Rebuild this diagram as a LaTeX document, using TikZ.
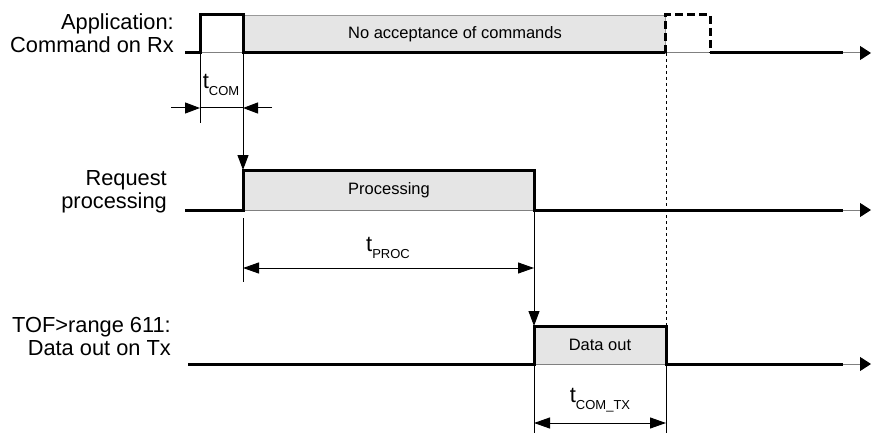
\documentclass[tikz,border=0pt]{standalone}
\usepackage{fontspec}
\setmainfont{Liberation Sans}
\usetikzlibrary{arrows.meta}
\begin{document}
\begin{tikzpicture}[x=1pt,y=-1pt,
  sig/.style={line width=3pt, line join=miter, line cap=butt},
  axisline/.style={line width=1pt, draw=black!50, -{Triangle[length=11pt,width=14pt,fill=black,color=black]}},
  thinline/.style={line width=1pt},
  tipend/.style={-{Triangle[length=15pt,width=11pt]}},
  dimline/.style={line width=1pt,{Triangle[length=16pt,width=11pt]}-{Triangle[length=16pt,width=11pt]}},
  busy/.style={fill=black!10, draw=black!40, line width=0.8pt},
  lab/.style={font=\fontsize{21.8}{24}\selectfont, inner sep=0pt, anchor=base east},
  inlab/.style={font=\fontsize{16.5}{19}\selectfont, inner sep=0pt},
  tlab/.style={inner sep=0pt, anchor=base, font=\fontsize{22}{24}\selectfont}
]
\useasboundingbox (0,0) rectangle (872,433);
\newcommand{\tsub}[1]{t\raisebox{-7pt}{\fontsize{13}{14}\selectfont #1}}

% ---------- coordinates ----------
\coordinate (a1s) at (185,53);
\coordinate (a1e) at (871,53);
\coordinate (a2s) at (185,210);
\coordinate (a2e) at (871,210);
\coordinate (a3s) at (188,364);
\coordinate (a3e) at (871,364);

\coordinate (c1) at (200,53);
\coordinate (c1b) at (200,123);
\coordinate (c2) at (243,53);
\coordinate (p1) at (243,170);
\coordinate (p2) at (534,210);
\coordinate (d1) at (534,326);
\coordinate (e1) at (666,53);
\coordinate (e2) at (666,326);

% ---------- busy areas ----------
\path[busy] (243,15) rectangle (665,53);
\path[busy] (243,170) rectangle (534,210);
\path[busy] (534,326) rectangle (666,364);
\draw[black, line width=0.9pt] (243,210) -- (534,210);

% ---------- axes ----------
\draw[axisline] (a1s) -- (a1e);
\draw[axisline] (a2s) -- (a2e);
\draw[axisline] (a3s) -- (a3e);

% ---------- signals ----------
\draw[sig] (185,53) -- (200,53) -- (200,15) -- (243,15) -- (243,53) -- (665,53);
\draw[sig, dash pattern=on 8pt off 4pt] (665,53) -- (665,15) -- (710,15) -- (710,53);
\draw[sig] (710,53) -- (843,53);
\draw[sig] (185,210) -- (243,210) -- (243,170) -- (534,170) -- (534,210) -- (843,210);
\draw[sig] (188,364) -- (534,364) -- (534,326) -- (666,326) -- (666,364) -- (843,364);

% ---------- left labels ----------
\node[lab] (l1a) at (174,30) {Application:};
\node[lab] (l1b) at (174,53) {Command on Rx};
\node[lab] (l2a) at (167,185) {Request};
\node[lab] (l2b) at (167,208) {processing};
\node[lab] (l3a) at (171,332) {TOF>range 611:};
\node[lab] (l3b) at (171,355) {Data out on Tx};

% ---------- inner labels ----------
\node[inlab] (n1) at (455,34) {No acceptance of commands};
\node[inlab] (n2) at (389,190) {Processing};
\node[inlab] (n3) at (600,345) {Data out};

% ---------- connectors ----------
\draw[thinline] (c1) -- (c1b);
\draw[thinline, tipend] (c2) -- (p1);
\draw[thinline, tipend] (p2) -- (d1);
\draw[dash pattern=on 3pt off 3pt, line width=0.8pt] (e1) -- (e2);

% t_COM
\coordinate (tc0) at (171,108);
\coordinate (tc1) at (200,108);
\coordinate (tc2) at (243,108);
\coordinate (tc3) at (272,108);
\draw[thinline] (tc1) -- (tc2);
\draw[thinline, tipend] (tc0) -- (tc1);
\draw[thinline, tipend] (tc3) -- (tc2);
\node[tlab] (tcom) at (221,89) {\tsub{COM}};

% t_PROC
\coordinate (tp0) at (243,218);
\coordinate (tp1) at (243,282);
\coordinate (tpa) at (243,268);
\coordinate (tpb) at (534,268);
\draw[thinline] (tp0) -- (tp1);
\draw[dimline] (tpa) -- (tpb);
\node[tlab] (tproc) at (388,251) {\tsub{PROC}};

% t_COM_TX
\coordinate (tx0) at (534,364);
\coordinate (tx1) at (534,433);
\coordinate (tx2) at (666,364);
\coordinate (tx3) at (666,433);
\coordinate (txa) at (534,423);
\coordinate (txb) at (666,423);
\draw[thinline] (tx0) -- (tx1);
\draw[thinline] (tx2) -- (tx3);
\draw[dimline] (txa) -- (txb);
\node[tlab] (tctx) at (600,402) {\tsub{COM\_TX}};
\end{tikzpicture}
\end{document}
